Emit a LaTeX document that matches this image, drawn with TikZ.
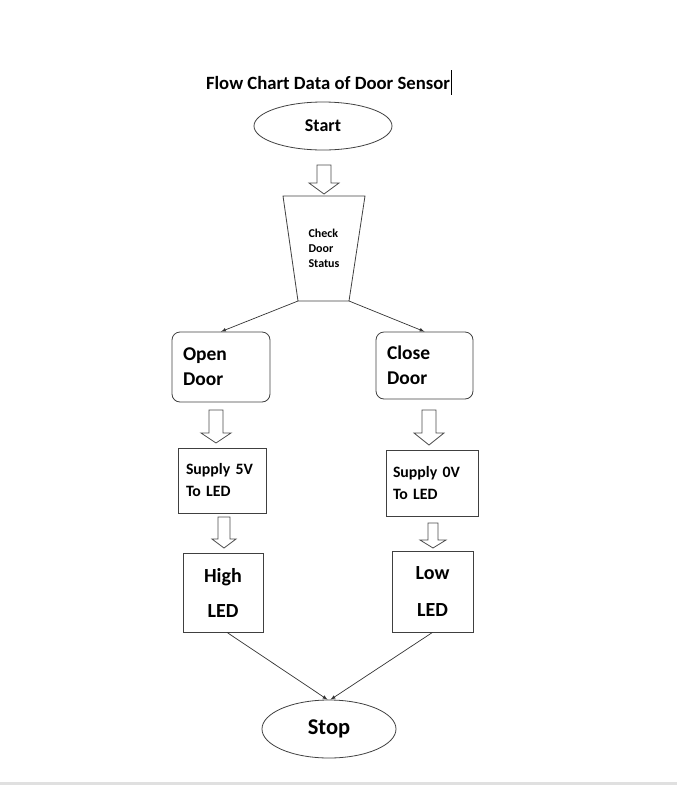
\documentclass[tikz,border=0pt]{standalone}
\usepackage{fontspec}
\setmainfont{Carlito}
\usetikzlibrary{arrows,shapes}

% hollow block arrow pointing down: x, top, head base, tip, half shaft, half head
\newcommand{\blockdown}[6]{%
\draw[line width=0.8pt,draw=black!70,fill=white] (#1-#5,#2) -- (#1+#5,#2) -- (#1+#5,#3)
	-- (#1+#6,#3) -- (#1,#4) -- (#1-#6,#3) -- (#1-#5,#3) -- cycle ;}

\begin{document}
\begin{tikzpicture}
[x=1pt,y=-1pt,
 every node/.style={font=\bfseries},
 line/.style={line width=0.8pt,draw=black!75},
 oval/.style={line,ellipse,inner sep=0pt},
 box/.style={line,rectangle,inner sep=0pt},
 link/.style={line width=0.7pt,draw=black!80,-latex}]
\useasboundingbox (0,0) rectangle (677,785);
\fill[black!12] (0,782) rectangle (677,785);

\node (title) at (328,83) {\fontsize{18.7}{22}\selectfont Flow Chart Data of Door Sensor};
\draw[line width=0.6pt] (451,70) -- (451,95);

\node[oval,minimum width=138,minimum height=48] (start) at (323,126)
	{\fontsize{18}{22}\selectfont Start};

\coordinate (chktl) at (283,196);
\coordinate (chktr) at (365,196);
\coordinate (chkbr) at (349,301);
\coordinate (chkbl) at (298,301);
\draw[line] (chktl) -- (chktr) -- (chkbr) -- (chkbl) -- cycle;
\node[anchor=west,align=left,font=\bfseries\fontsize{12}{15}\selectfont] (check) at (305,248)
	{Check\\Door\\Status};

\node[box,rounded corners=8,minimum width=98,minimum height=70,text width=76,align=left,
	font=\bfseries\fontsize{19.5}{25}\selectfont] (open) at (221,367) {Open\\Door};
\node[box,rounded corners=8,minimum width=97,minimum height=67,text width=75,align=left,
	font=\bfseries\fontsize{19.5}{25}\selectfont] (close) at (424.5,365.5) {Close\\Door};

\node[box,minimum width=88,minimum height=65,text width=72,align=left,
	font=\bfseries\fontsize{15.8}{22}\selectfont] (supplyhi) at (222,480.5) {Supply 5V\\To LED};
\node[box,minimum width=92,minimum height=66,text width=78,align=left,
	font=\bfseries\fontsize{15.8}{22}\selectfont] (supplylo) at (432,483) {Supply 0V\\To LED};

\node[box,minimum width=80,minimum height=79,align=center,
	font=\bfseries\fontsize{20}{35}\selectfont] (high) at (223,592.5) {High\\LED};
\node[box,minimum width=81,minimum height=81,align=center,
	font=\bfseries\fontsize{20}{37}\selectfont] (low) at (432.5,591.5) {Low\\LED};

\node[oval,minimum width=134,minimum height=58] (stop) at (329,729)
	{\fontsize{22.5}{26}\selectfont Stop};

\blockdown{324}{165}{183}{194}{7}{15}
\blockdown{216}{410}{433}{443}{7}{15}
\blockdown{429}{410}{433}{445}{7}{15}
\blockdown{224}{517}{539}{548}{6}{12}
\blockdown{433}{523}{540}{548}{5}{13}

\draw[link] (chkbl) -- (open.north);
\draw[link] (chkbr) -- (close.north);
\draw[link] ([xshift=4]high.south) -- ([xshift=-1.5]stop.north);
\draw[link] (low.south) -- ([xshift=1.5]stop.north);
\end{tikzpicture}
\end{document}
